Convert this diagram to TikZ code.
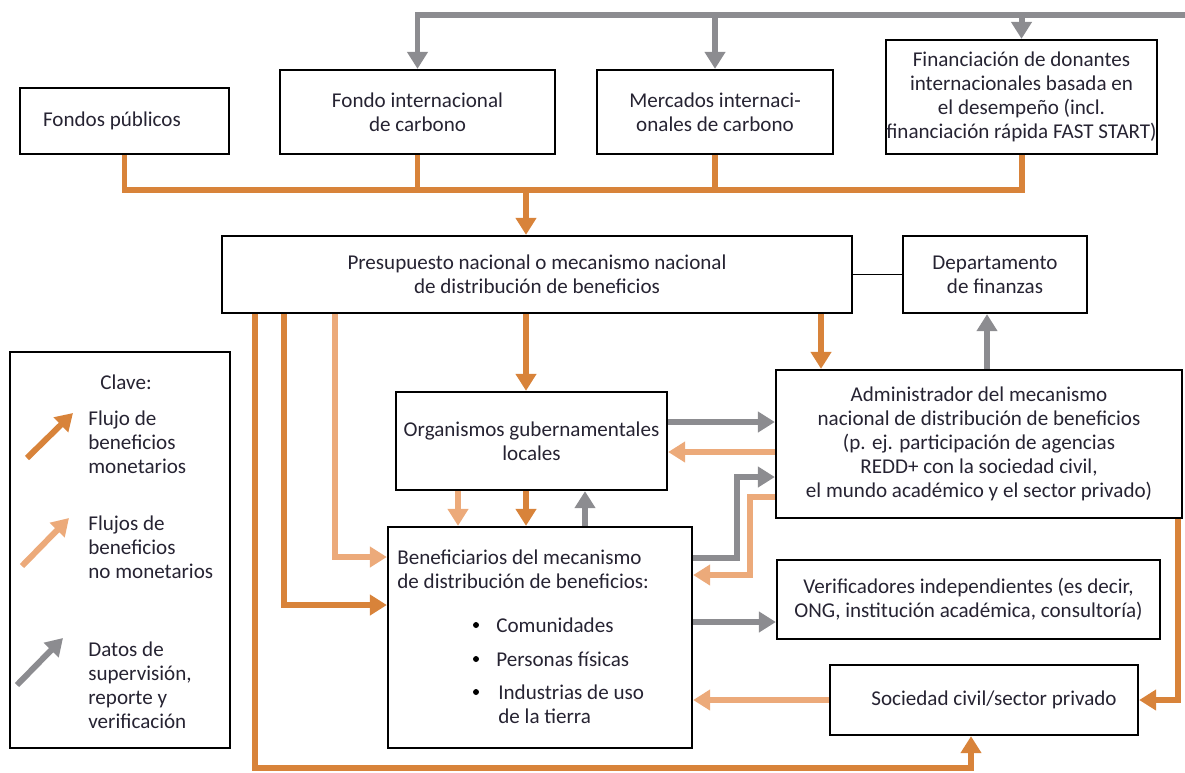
\documentclass[tikz,border=0pt]{standalone}
\usepackage{fontspec}
\setmainfont{Carlito}
\usetikzlibrary{arrows.meta}
\definecolor{cmon}{RGB}{216,131,58}
\definecolor{cnomon}{RGB}{236,170,122}
\definecolor{csup}{RGB}{140,140,144}
\definecolor{ink}{RGB}{38,35,50}
\begin{document}
\begin{tikzpicture}[x=0.02cm, y=-0.02cm, font=\fontsize{12}{13.7}\selectfont, text=ink,
        caja/.style={draw=black, line width=1.3pt, inner sep=0pt, align=center},
        tam/.style 2 args={minimum width=#1*0.02cm, minimum height=#2*0.02cm},
        flujo/.style={line width=3.4pt, -{Triangle[width=0.4cm, length=0.34cm]}},
        monet/.style={flujo, draw=cmon},
        nomonet/.style={flujo, draw=cnomon},
        datos/.style={flujo, draw=csup},
        linmon/.style={line width=3.4pt, draw=cmon}]
    \useasboundingbox (0,0) rectangle (1185,772);
    \node[caja, tam={209}{66}] (pub) at (124.5,121) {Fondos públicos\hspace{0.5cm}};
    \node[caja, tam={275}{84}] (fic) at (417.5,112) {Fondo internacional\\de carbono};
    \node[caja, tam={236}{84}] (mic) at (715,112) {Mercados internaci-\\onales de carbono};
    \node[caja, tam={271}{114}] (fin) at (1021.5,97) {Financiación de donantes\\internacionales basada en\\el desempeño (incl.\\financiación rápida FAST START)};
    \node[caja, tam={630}{77}] (pre) at (537,274.5) {Presupuesto nacional o mecanismo nacional\\de distribución de beneficios};
    \node[caja, tam={184}{77}] (dep) at (995,274.5) {Departamento\\de finanzas};
    \node[caja, tam={271}{98}] (org) at (531.5,441) {Organismos gubernamentales\\locales};
    \node[caja, tam={406}{148}] (adm) at (979,444) {Administrador del mecanismo\\nacional de distribución de beneficios\\(p. ej. participación de agencias\\REDD+ con la sociedad civil,\\el mundo académico y el sector privado)};
    \node[caja, tam={304}{221}] (ben) at (540,637.5) {};
    \node[caja, tam={383}{79}] (ver) at (968.5,599.5) {Verificadores independientes (es decir,\\ONG, institución académica, consultoría)};
    \node[caja, tam={308}{70}] (soc) at (984,700) {\hspace{0.4cm}Sociedad civil/sector privado};
    \node[caja, tam={220}{396}] (clave) at (120,550) {};
    \node[anchor=west, align=left, inner sep=0pt] (bent) at (397,569.5) {Beneficiarios del mecanismo\\de distribución de beneficios:};
    \fill (476,625) circle (1.7pt);
    \node[anchor=west, inner sep=0pt] (b1) at (496,625) {Comunidades};
    \fill (476,659) circle (1.7pt);
    \node[anchor=west, inner sep=0pt] (b2) at (496,659) {Personas físicas};
    \fill (476,692) circle (1.7pt);
    \node[anchor=west, align=left, inner sep=0pt] (b3) at (498,704) {Industrias de uso\\de la tierra};
    \node (clavet) at (126,382) {Clave:};
    \node[anchor=west, align=left, inner sep=0pt] (k1t) at (88,442) {Flujo de\\beneficios\\monetarios};
    \node[anchor=west, align=left, inner sep=0pt] (k2t) at (88,547) {Flujos de\\beneficios\\no monetarios};
    \node[anchor=west, align=left, inner sep=0pt] (k3t) at (88,685.5) {Datos de\\supervisión,\\reporte y\\verificación};
    \draw[monet] (27,458) -- (73,413);
    \draw[nomonet] (22,566) -- (69,518);
    \draw[datos] (17,685) -- (63,638);
    \coordinate (gtop) at (1185,15);
    \coordinate (obar) at (0,190);
    \coordinate (mid) at (526,0);
    \draw[datos] (gtop) -| (fic.north);
    \draw[datos] (gtop -| mic.north) -- (mic.north);
    \draw[datos] (gtop -| fin.north) -- (fin.north);
    \draw[linmon] (pub.south) |- (fin.south |- obar) -- (fin.south);
    \draw[linmon] (fic.south) -- (fic.south |- obar);
    \draw[linmon] (mic.south) -- (mic.south |- obar);
    \draw[monet] (mid |- obar) -- (mid |- pre.north);
    \draw[line width=1pt] (pre.east) -- (dep.west);
    \coordinate (c1) at (255,768);
    \coordinate (c2) at (971,768);
    \coordinate (c3) at (284,605);
    \coordinate (c4) at (335,557);
    \coordinate (c5) at (821,0);
    \coordinate (c6) at (987,0);
    \draw[monet] (pre.south -| c1) -- (c1) -- (c2) -- (c2 |- soc.south);
    \draw[monet] (pre.south -| c3) |- (ben.west |- c3);
    \draw[nomonet] (pre.south -| c4) |- (ben.west |- c4);
    \draw[monet] (mid |- pre.south) -- (mid |- org.north);
    \draw[monet] (pre.south -| c5) -- (adm.north -| c5);
    \draw[datos] (adm.north -| c6) -- (dep.south -| c6);
    \coordinate (r1) at (0,422);
    \coordinate (r2) at (0,452);
    \draw[datos] (org.east |- r1) -- (adm.west |- r1);
    \draw[nomonet] (adm.west |- r2) -- (org.east |- r2);
    \coordinate (c7) at (458,0);
    \coordinate (c8) at (585,0);
    \draw[nomonet] (org.south -| c7) -- (ben.north -| c7);
    \draw[monet] (org.south -| mid) -- (ben.north -| mid);
    \draw[datos] (ben.north -| c8) -- (org.south -| c8);
    \coordinate (r3) at (0,558);
    \coordinate (r5) at (0,497);
    \coordinate (k1) at (737,477);
    \coordinate (k2) at (750,575);
    \draw[datos] (ben.east |- r3) -| (k1) -- (adm.west |- k1);
    \draw[nomonet] (adm.west |- r5) -| (k2) -- (ben.east |- k2);
    \coordinate (r7) at (0,622);
    \draw[datos] (ben.east |- r7) -- (ver.west |- r7);
    \draw[nomonet] (soc.west) -- (ben.east |- soc.west);
    \coordinate (c9) at (1178,0);
    \draw[monet] (adm.south -| c9) |- (soc.east);
\end{tikzpicture}
\end{document}
